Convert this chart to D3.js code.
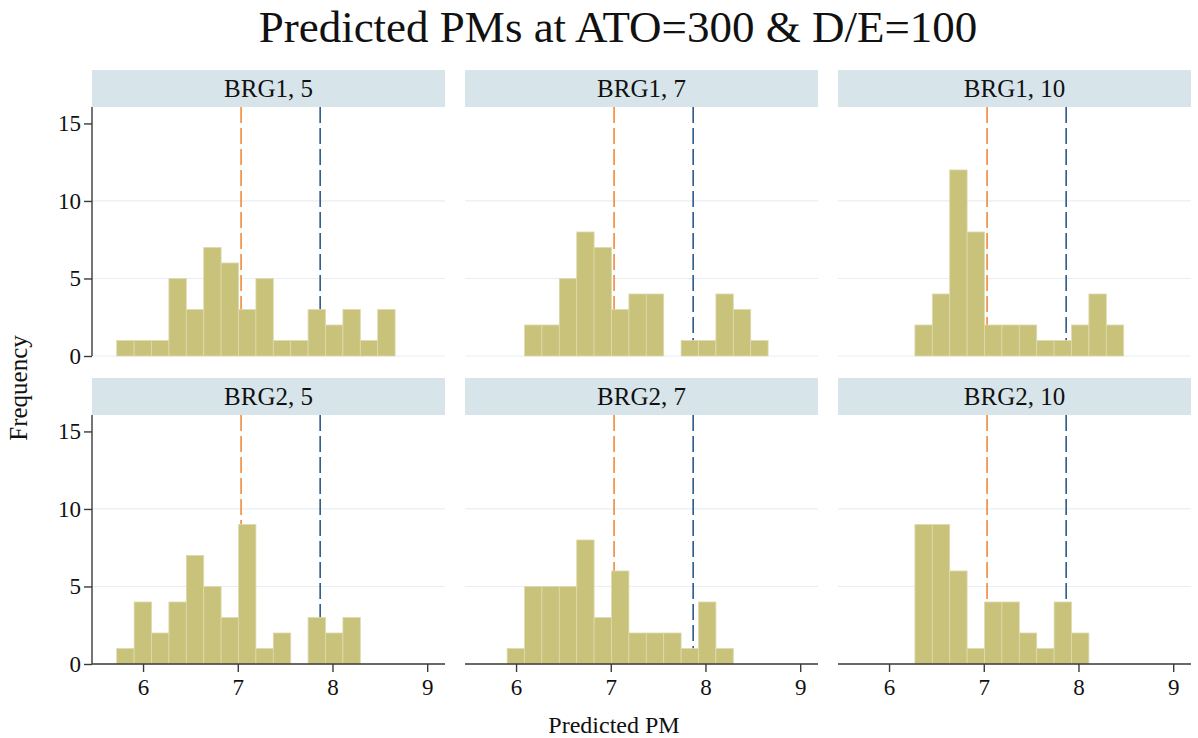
<!DOCTYPE html>
<html>
<head>
<meta charset="utf-8">
<script src="https://cdn.jsdelivr.net/npm/d3@7"></script>
<style>
  html, body { margin: 0; padding: 0; background: #fff; }
  text { font-family: "Liberation Serif", "Times New Roman", serif; fill: #111; }
</style>
</head>
<body>
<div id="chart"></div>
<script>
// histogram bins shared by every panel
const binStart = 5.722;
const binWidth = 0.1837;

const panelLabels = ["BRG1, 5", "BRG1, 7", "BRG1, 10", "BRG2, 5", "BRG2, 7", "BRG2, 10"];

// frequency per bin, one list per panel
const countsBRG1_5  = [1, 1, 1, 5, 3, 7, 6, 3, 5, 1, 1, 3, 2, 3, 1, 3];
const countsBRG1_7  = [0, 0, 2, 2, 5, 8, 7, 3, 4, 4, 0, 1, 1, 4, 3, 1];
const countsBRG1_10 = [0, 0, 0, 2, 4, 12, 8, 2, 2, 2, 1, 1, 2, 4, 2, 0];
const countsBRG2_5  = [1, 4, 2, 4, 7, 5, 3, 9, 1, 2, 0, 3, 2, 3, 0, 0];
const countsBRG2_7  = [0, 1, 5, 5, 5, 8, 3, 6, 2, 2, 2, 1, 4, 1, 0, 0];
const countsBRG2_10 = [0, 0, 0, 9, 9, 6, 1, 4, 4, 2, 1, 4, 2, 0, 0, 0];

const xTicks = [6, 7, 8, 9];
const yTicks = [0, 5, 10, 15];
const gridTicks = [0, 5, 10];

// dashed reference lines (x position)
const refLines = [7.035, 7.87];
const refColors = ["#f08a3a", "#2c5a8a"];

const allCounts = [countsBRG1_5, countsBRG1_7, countsBRG1_10, countsBRG2_5, countsBRG2_7, countsBRG2_10];

const width = 1198, height = 738;
const colX = [92, 465, 838];
const plotW = 353;
const rowY = [70, 378];
const stripH = 37;
const plotH = 249;

const svg = d3.select("#chart").append("svg")
  .attr("width", width)
  .attr("height", height);

svg.append("text")
  .attr("x", 618).attr("y", 42)
  .attr("text-anchor", "middle")
  .attr("font-size", 45)
  .text("Predicted PMs at ATO=300 & D/E=100");

svg.append("text")
  .attr("transform", "translate(27,388) rotate(-90)")
  .attr("text-anchor", "middle")
  .attr("font-size", 25)
  .text("Frequency");

svg.append("text")
  .attr("x", 614).attr("y", 733)
  .attr("text-anchor", "middle")
  .attr("font-size", 24)
  .text("Predicted PM");

allCounts.forEach(function (counts, i) {
  const col = i % 3, row = Math.floor(i / 3);
  const left = colX[col];
  const top = rowY[row];
  const g = svg.append("g").attr("transform", "translate(" + left + "," + (top + stripH) + ")");

  const x = d3.scaleLinear().domain([5.461, 9.188]).range([0, plotW]);
  const y = d3.scaleLinear().domain([0, 16.06]).range([plotH, 0]);

  // strip
  svg.append("rect")
    .attr("x", left).attr("y", top)
    .attr("width", plotW).attr("height", stripH)
    .attr("fill", "#d7e5eb");
  svg.append("text")
    .attr("x", left + plotW / 2).attr("y", top + stripH / 2 + 8)
    .attr("text-anchor", "middle")
    .attr("font-size", 25)
    .text(panelLabels[i]);

  // gridlines
  g.selectAll(".grid").data(gridTicks).enter().append("line")
    .attr("x1", 0).attr("x2", plotW)
    .attr("y1", d => y(d)).attr("y2", d => y(d))
    .attr("stroke", "#e7eff2").attr("stroke-width", 1.2);

  // reference lines (behind bars)
  g.selectAll(".ref").data(refLines).enter().append("line")
    .attr("x1", d => x(d)).attr("x2", d => x(d))
    .attr("y1", 0).attr("y2", plotH)
    .attr("stroke", (d, k) => refColors[k])
    .attr("stroke-width", 1.6)
    .attr("stroke-dasharray", "16,5");

  // bars
  const bins = counts.map((c, k) => ({ x0: binStart + k * binWidth, x1: binStart + (k + 1) * binWidth, n: c }))
    .filter(d => d.n > 0);
  g.selectAll(".bar").data(bins).enter().append("rect")
    .attr("x", d => x(d.x0))
    .attr("width", d => x(d.x1) - x(d.x0))
    .attr("y", d => y(d.n))
    .attr("height", d => y(0) - y(d.n))
    .attr("fill", "#c8c27a")
    .attr("stroke", "#dedab0")
    .attr("stroke-width", 0.8);

  // y axis on left column
  if (col === 0) {
    const ya = g.append("g")
      .call(d3.axisLeft(y).tickValues(yTicks).tickSize(8).tickPadding(3).tickFormat(d3.format("d")));
    ya.select(".domain").attr("d", "M0,0V" + plotH).attr("stroke", "#3a3a3a").attr("stroke-width", 1.4);
    ya.selectAll(".tick line").attr("stroke", "#3a3a3a").attr("stroke-width", 1.4);
    ya.selectAll("text").attr("font-size", 23).attr("fill", "#1a2a4a")
      .style("font-family", "Liberation Serif");
  }

  // x axis on bottom row
  if (row === 1) {
    const xa = g.append("g").attr("transform", "translate(0," + plotH + ")")
      .call(d3.axisBottom(x).tickValues(xTicks).tickSize(8).tickPadding(7).tickFormat(d3.format("d")));
    xa.select(".domain").attr("d", "M0,0H" + plotW).attr("stroke", "#3a3a3a").attr("stroke-width", 1.4);
    xa.selectAll(".tick line").attr("stroke", "#3a3a3a").attr("stroke-width", 1.4);
    xa.selectAll("text").attr("font-size", 23).attr("fill", "#1a2a4a")
      .style("font-family", "Liberation Serif");
  }
});
</script>
</body>
</html>
